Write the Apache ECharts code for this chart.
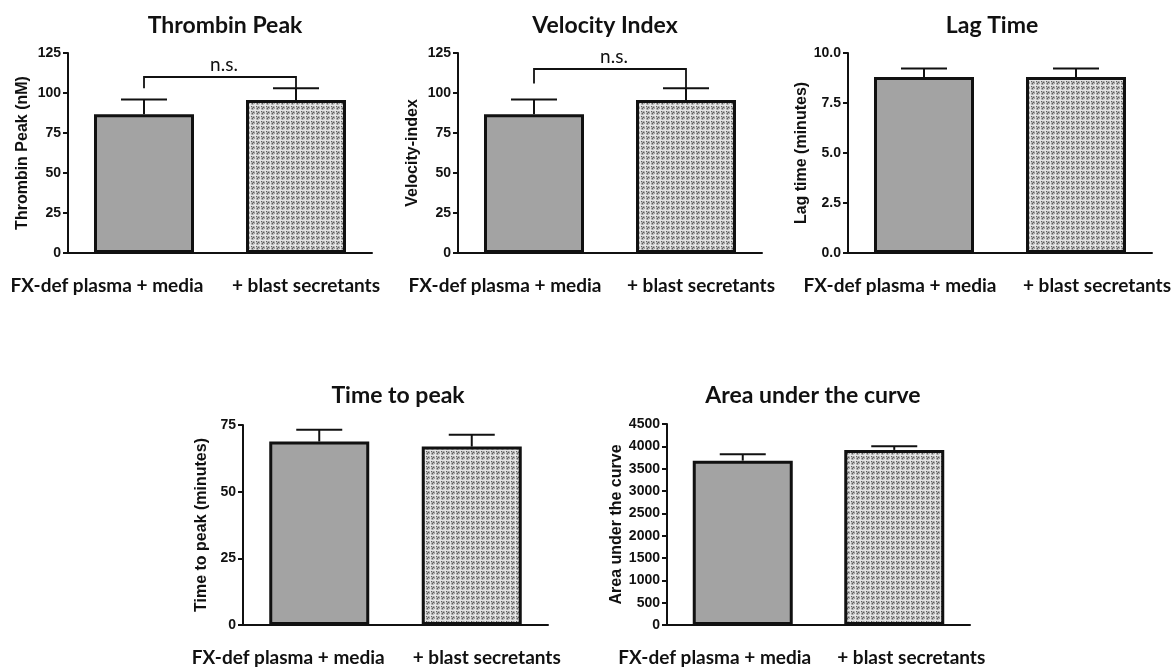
<!DOCTYPE html>
<html>
<head>
<meta charset="utf-8">
<script src="https://cdn.jsdelivr.net/npm/echarts@6/dist/echarts.min.js"></script>
<style>
html,body{margin:0;padding:0;background:#fff;}
#chart{width:1176px;height:669px;}
</style>
</head>
<body>
<div id="chart"></div>
<script>
// ---- data ----
const categories = ['FX-def plasma + media', '+ blast secretants'];
const panelTitles = ['Thrombin Peak', 'Velocity Index', 'Lag Time', 'Time to peak', 'Area under the curve'];
const axisNames = ['Thrombin Peak (nM)', 'Velocity-index', 'Lag time (minutes)', 'Time to peak (minutes)', 'Area under the curve'];
const thrombinMean = [86.7, 95.6];
const thrombinErr = [9.3, 7.3];
const velocityMean = [86.7, 95.6];
const velocityErr = [9.3, 7.3];
const lagMean = [8.8, 8.8];
const lagErr = [0.42, 0.42];
const ttpMean = [68.8, 66.9];
const ttpErr = [4.4, 4.4];
const aucMean = [3680, 3920];
const aucErr = [140, 80];
const yMax = [125, 125, 10, 75, 4500];
const yStep = [25, 25, 2.5, 25, 500];
// significance brackets: [bracket level, left leg end, right leg end]
const thrombinBracket = [110, 103, 95.6];
const velocityBracket = [115, 106, 95.6];
const sigLabel = 'n.s.';

const means = [thrombinMean, velocityMean, lagMean, ttpMean, aucMean];
const errs = [thrombinErr, velocityErr, lagErr, ttpErr, aucErr];
const brackets = [thrombinBracket, velocityBracket, null, null, null];

// ---- layout / style ----
const grids = [
  {left: 68, top: 53, width: 304, height: 200},
  {left: 458, top: 53, width: 304, height: 200},
  {left: 848, top: 53, width: 304, height: 200},
  {left: 243, top: 425, width: 305, height: 200},
  {left: 667, top: 424, width: 303, height: 201}
];
const nameGaps = [37, 37, 37, 33, 29];
const titleCenters = [220, 600, 987, 393, 808];
const titleTops = [9, 9, 9, 379, 379];
// horizontal shift of the category labels relative to their ticks [left label, right label]
const labelShift = [[-37, 10], [-29, 15], [-24, 21], [-31, 15], [-28, 17]];

// dotted texture for second bar
function makePattern() {
  const rows = [
    'wwwww',
    'wdlgl',
    'wlgdg',
    'wgdlg',
    'wlglw'
  ];
  const cmap = {w: '#e4e4e4', g: '#a0a0a0', d: '#5e5e5e', l: '#bfbfbf'};
  const n = rows.length;
  const c = document.createElement('canvas');
  c.width = n; c.height = n;
  const ctx = c.getContext('2d');
  for (let y = 0; y < n; y++) for (let x = 0; x < n; x++) {
    ctx.fillStyle = cmap[rows[y][x]];
    ctx.fillRect(x, y, 1, 1);
  }
  return c;
}
const pattern = makePattern();

const titleFont = 'Lato';
const axisFont = '"Liberation Sans", Arial, sans-serif';
const ink = '#111';

const option = {
  animation: false,
  backgroundColor: '#fff',
  title: panelTitles.map((t, i) => ({
    text: t, left: titleCenters[i], top: titleTops[i], textAlign: 'center',
    textStyle: {fontFamily: titleFont, fontWeight: 700, fontSize: 23, color: ink}
  })),
  grid: grids.map(g => Object.assign({containLabel: false}, g)),
  xAxis: grids.map((g, i) => ({
    type: 'category', gridIndex: i, data: categories,
    axisLine: {lineStyle: {color: ink, width: 2}},
    axisTick: {alignWithLabel: true, length: 6, lineStyle: {color: ink, width: 2}},
    axisLabel: {
      margin: 23, interval: 0,
      formatter: (v, idx) => {
        const s = labelShift[i][idx];
        return s < 0 ? '{t|' + v + '}{s' + idx + '| }' : '{s' + idx + '| }{t|' + v + '}';
      },
      rich: {
        t: {fontFamily: titleFont, fontWeight: 700, fontSize: 19, color: ink},
        s0: {width: Math.abs(labelShift[i][0]) * 2, fontSize: 19},
        s1: {width: Math.abs(labelShift[i][1]) * 2, fontSize: 19}
      }
    }
  })),
  yAxis: grids.map((g, i) => ({
    type: 'value', gridIndex: i, min: 0, max: yMax[i], interval: yStep[i],
    name: axisNames[i], nameLocation: 'middle', nameGap: nameGaps[i], nameRotate: 90,
    nameTextStyle: {fontFamily: axisFont, fontWeight: 'bold', fontSize: 16, color: ink},
    axisLine: {show: true, lineStyle: {color: ink, width: 2}},
    axisTick: {show: true, length: 5, lineStyle: {color: ink, width: 2}},
    axisLabel: {margin: 7, fontFamily: axisFont, fontWeight: 'bold', fontSize: 14, color: ink,
      formatter: v => (yStep[i] % 1 !== 0 ? v.toFixed(1) : String(v))},
    splitLine: {show: false}
  })),
  series: []
};

means.forEach((m, i) => {
  option.series.push({
    type: 'bar', xAxisIndex: i, yAxisIndex: i, barWidth: 100,
    data: m.map((v, j) => ({
      value: v,
      itemStyle: {
        color: j === 0 ? '#a3a3a3' : {image: pattern, repeat: 'repeat'},
        borderColor: ink, borderWidth: 3
      }
    })),
    z: 2
  });
  option.series.push({
    type: 'custom', xAxisIndex: i, yAxisIndex: i, z: 3,
    encode: {x: 0, y: 1},
    data: m.map((v, j) => [j, v, errs[i][j]]),
    renderItem: (params, api) => {
      const x = api.value(0), v = api.value(1), e = api.value(2);
      const p0 = api.coord([x, v]);
      const p1 = api.coord([x, v + e]);
      const hw = 23;
      return {type: 'group', children: [
        {type: 'line', shape: {x1: p0[0], y1: p0[1], x2: p1[0], y2: p1[1]}, style: {stroke: ink, lineWidth: 2}},
        {type: 'line', shape: {x1: p1[0] - hw, y1: p1[1], x2: p1[0] + hw, y2: p1[1]}, style: {stroke: ink, lineWidth: 2}}
      ]};
    }
  });
  if (brackets[i]) {
    const b = brackets[i];
    option.series.push({
      type: 'custom', xAxisIndex: i, yAxisIndex: i, z: 4,
      encode: {x: 0, y: 2},
      data: [[0, 1, b[0], b[1], b[2]]],
      renderItem: (params, api) => {
        const xa = api.value(0), xb = api.value(1), lvl = api.value(2), la = api.value(3), lb = api.value(4);
        const pa = api.coord([xa, lvl]), pb = api.coord([xb, lvl]);
        const qa = api.coord([xa, la]), qb = api.coord([xb, lb]);
        return {type: 'group', children: [
          {type: 'polyline', shape: {points: [[qa[0], qa[1]], [pa[0], pa[1]], [pb[0], pb[1]], [qb[0], qb[1]]]},
            style: {stroke: ink, lineWidth: 1.8, fill: null}},
          {type: 'text', x: (pa[0] + pb[0]) / 2 + 4, y: pa[1] - 3,
            style: {text: sigLabel, fontFamily: titleFont, fontSize: 19, fill: ink, textAlign: 'center', textVerticalAlign: 'bottom'}}
        ]};
      }
    });
  }
});

const chart = echarts.init(document.getElementById('chart'), null, {renderer: 'canvas'});
chart.setOption(option);
</script>
</body>
</html>
